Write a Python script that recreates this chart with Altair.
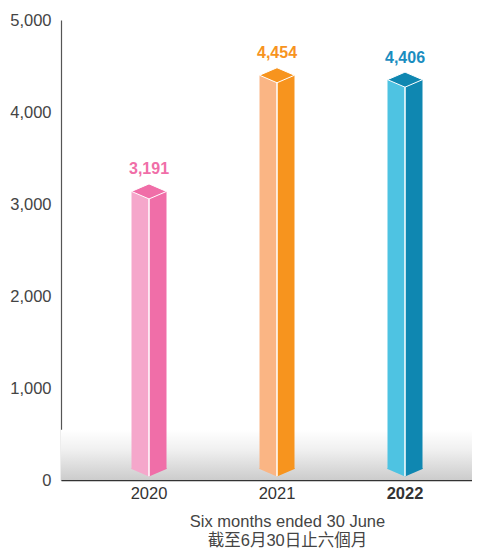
import altair as alt
import pandas as pd

years = ["2020", "2021", "2022"]
values = [3191, 4454, 4406]
front_colors = ["#f5a7cb", "#fab584", "#4ec3e2"]
side_colors = ["#f06ea8", "#f7941e", "#0f87b1"]
label_colors = ["#f06ea8", "#f7941e", "#1a8dbf"]
y_ticks = [0, 1000, 2000, 3000, 4000, 5000]
x_title = ["Six months ended 30 June", "截至6月30日止六個月"]

df = pd.DataFrame({
    "year": years,
    "value": values,
    "front": front_colors,
    "side": side_colors,
    "label": label_colors,
})
df["text"] = df["value"].map(lambda v: f"{v:,}")

FONT = "Liberation Sans"
TITLE_FONT = "Liberation Sans, Noto Sans CJK TC"
W, H = 411, 460
YMAX = 5000
HALF = 17.5
SIZE = (2 * HALF) ** 2
DIAMOND = "M -1 0 L 0 -0.43 L 1 0 L 0 0.43 Z"
LEFT_TRI = "M -1 -0.06 L 0 -0.06 L 0 0.43 L -1 0 Z"
RIGHT_TRI = "M 0 -0.06 L 1 -0.06 L 1 0 L 0 0.43 Z"
TOP_SHIFT = 5  # px: top face sits slightly below the value line
BOTTOM_CORNER = 120
BOTTOM_POINT = 40

x_enc = alt.X(
    "year:N",
    sort=years,
    scale=alt.Scale(paddingInner=0, paddingOuter=0.1055, align=0.889),
    axis=alt.Axis(
        title=x_title,
        labelAngle=0,
        ticks=False,
        domainColor="#333333",
        domainWidth=1.5,
        labelPadding=5,
        labelFontSize=16.5,
        labelFont=FONT,
        labelColor="#333333",
        labelFontWeight={"condition": {"test": "datum.value == '2022'", "value": "bold"}, "value": "normal"},
        titleFont=TITLE_FONT,
        titleFontSize=16.5,
        titleFontWeight="normal",
        titleColor="#444444",
        titlePadding=12,
        titleLineHeight=19,
        titleX=226,
        titleAlign="center",
    ),
)
y_enc = alt.Y(
    "value:Q",
    scale=alt.Scale(domain=[0, YMAX], nice=False),
    axis=alt.Axis(
        values=y_ticks,
        labelExpr="format(datum.value, ',')",
        ticks=False,
        grid=False,
        domainColor="#555555",
        domainWidth=1.2,
        labelPadding=10,
        labelFontSize=16.5,
        labelFont=FONT,
        labelColor="#444444",
        title=None,
    ),
)

base = alt.Chart(df)

bg = alt.Chart(pd.DataFrame({"a": [0]})).mark_rect(
    fill=alt.Gradient(
        gradient="linear",
        stops=[
            alt.GradientStop(color="#ffffff", offset=0),
            alt.GradientStop(color="#f0f0f0", offset=0.4),
            alt.GradientStop(color="#cccccc", offset=1),
        ],
        x1=0, x2=0, y1=0, y2=1,
    )
).encode(y=alt.datum(545), y2=alt.datum(0))

front = base.mark_bar(width=HALF, xOffset=-HALF / 2, yOffset=TOP_SHIFT).encode(
    x=x_enc, y=y_enc, y2=alt.datum(BOTTOM_CORNER), fill=alt.Fill("front:N", scale=None)
)
side = base.mark_bar(width=HALF, xOffset=HALF / 2, yOffset=TOP_SHIFT).encode(
    x=x_enc, y=y_enc, y2=alt.datum(BOTTOM_CORNER), fill=alt.Fill("side:N", scale=None)
)
tri_l = base.mark_point(shape=LEFT_TRI, size=SIZE, filled=True, opacity=1, strokeWidth=0).encode(
    x=x_enc, y=alt.datum(BOTTOM_CORNER), fill=alt.Fill("front:N", scale=None)
)
tri_r = base.mark_point(shape=RIGHT_TRI, size=SIZE, filled=True, opacity=1, strokeWidth=0).encode(
    x=x_enc, y=alt.datum(BOTTOM_CORNER), fill=alt.Fill("side:N", scale=None)
)
mid = base.mark_rule(color="white", strokeWidth=1.5, yOffset=TOP_SHIFT).encode(
    x=x_enc, y=y_enc, y2=alt.datum(BOTTOM_POINT)
)
top = base.mark_point(shape=DIAMOND, size=SIZE, filled=True, opacity=1, stroke="white",
                      strokeWidth=1, yOffset=TOP_SHIFT).encode(
    x=x_enc, y=y_enc, fill=alt.Fill("side:N", scale=None)
)
labels = base.mark_text(dy=-17, fontSize=16, fontWeight="bold", font=FONT).encode(
    x=x_enc, y=y_enc, text="text:N", color=alt.Color("label:N", scale=None)
)

chart = alt.layer(bg, front, side, tri_l, tri_r, mid, top, labels).properties(
    width=W,
    height=H,
    autosize=alt.AutoSizeParams(type="none"),
    padding={"left": 53, "top": 12, "right": 0, "bottom": 69},
).configure_view(stroke=None)

chart.save("out.html", embed_options={"renderer": "svg", "actions": False})
